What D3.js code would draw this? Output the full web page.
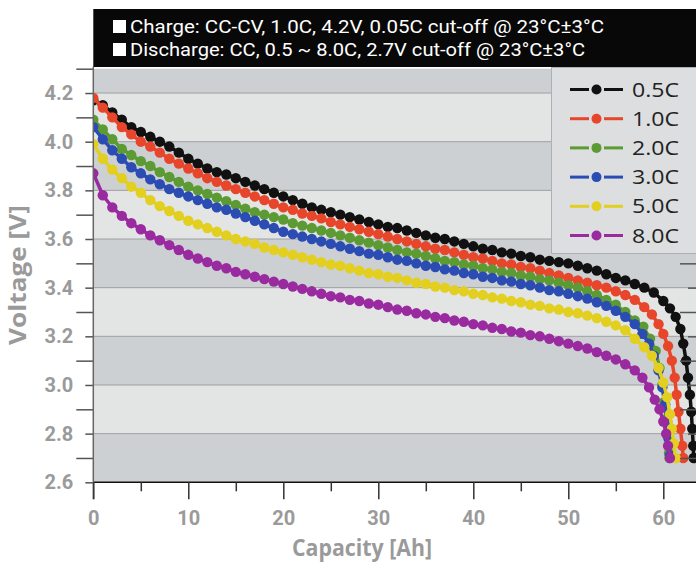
<!DOCTYPE html>
<html><head><meta charset="utf-8">
<script src="https://cdn.jsdelivr.net/npm/d3@7"></script>
<style>html,body{margin:0;padding:0;background:#fff;} svg{display:block;}</style>
</head><body>
<svg id="c" width="696" height="564"></svg>
<script>
const seriesNames = ["0.5C","1.0C","2.0C","3.0C","5.0C","8.0C"];
const seriesColors = ["#111111","#e8462b","#5c9b33","#2b4cb3","#e2cf20","#9a2a9f"];
const xTicks = [0,10,20,30,40,50,60];
const xMinorTicks = [5,15,25,35,45,55];
const yTicks = [2.6,2.8,3.0,3.2,3.4,3.6,3.8,4.0,4.2];
const yMinorTicks = [2.7,2.9,3.1,3.3,3.5,3.7,3.9,4.1,4.3];
const headerLines = ["Charge: CC-CV, 1.0C, 4.2V, 0.05C cut-off @ 23°C±3°C",
                     "Discharge: CC, 0.5 ~ 8.0C, 2.7V cut-off @ 23°C±3°C"];
const xTitle = "Capacity [Ah]";
const yTitle = "Voltage [V]";

// [capacity Ah, voltage V]
const c05 = [[0,4.17],[1,4.15],[2,4.12],[3,4.09],[4,4.06],[5,4.04],[6,4.02],[7,4.00],[8,3.98],[9,3.955],
 [10,3.93],[11,3.91],[12,3.89],[13,3.875],[14,3.865],[15,3.85],[16,3.835],[17,3.82],[18,3.805],[19,3.79],
 [20,3.775],[21,3.76],[22,3.745],[23,3.73],[24,3.72],[25,3.71],[26,3.70],[27,3.69],[28,3.68],[29,3.67],
 [30,3.66],[31,3.65],[32,3.645],[33,3.635],[34,3.625],[35,3.615],[36,3.605],[37,3.60],[38,3.59],[39,3.58],
 [40,3.57],[41,3.56],[42,3.555],[43,3.545],[44,3.54],[45,3.53],[46,3.525],[47,3.515],[48,3.51],[49,3.505],
 [50,3.50],[51,3.49],[52,3.48],[53,3.47],[54,3.455],[55,3.44],[56,3.43],[57,3.415],[58,3.40],[59,3.38],
 [60,3.345],[60.7,3.315],[61.3,3.28],[61.8,3.23],[62.1,3.17],[62.4,3.10],[62.6,3.03],[62.8,2.96],[62.95,2.89],
 [63.05,2.82],[63.15,2.75],[63.2,2.70]];
const c10 = [[0,4.18],[1,4.14],[2,4.10],[3,4.06],[4,4.03],[5,4.00],[6,3.98],[7,3.955],[8,3.93],[9,3.91],
 [10,3.89],[11,3.87],[12,3.85],[13,3.835],[14,3.82],[15,3.805],[16,3.79],[17,3.775],[18,3.76],[19,3.745],
 [20,3.73],[21,3.72],[22,3.705],[23,3.695],[24,3.685],[25,3.67],[26,3.66],[27,3.65],[28,3.64],[29,3.63],
 [30,3.62],[31,3.61],[32,3.60],[33,3.59],[34,3.58],[35,3.57],[36,3.56],[37,3.555],[38,3.545],[39,3.535],
 [40,3.525],[41,3.52],[42,3.51],[43,3.50],[44,3.495],[45,3.485],[46,3.48],[47,3.47],[48,3.46],[49,3.45],
 [50,3.44],[51,3.43],[52,3.42],[53,3.41],[54,3.40],[55,3.385],[56,3.37],[57,3.35],[58,3.32],[58.8,3.29],
 [59.5,3.25],[60,3.21],[60.5,3.16],[60.9,3.10],[61.2,3.03],[61.4,2.96],[61.6,2.89],[61.8,2.82],[62.0,2.75],[62.1,2.70]];
const c20 = [[0,4.09],[1,4.05],[2,4.01],[3,3.97],[4,3.945],[5,3.92],[6,3.90],[7,3.875],[8,3.855],[9,3.835],
 [10,3.815],[11,3.80],[12,3.785],[13,3.77],[14,3.755],[15,3.74],[16,3.725],[17,3.71],[18,3.70],[19,3.69],
 [20,3.68],[21,3.665],[22,3.655],[23,3.645],[24,3.635],[25,3.625],[26,3.615],[27,3.605],[28,3.595],[29,3.585],
 [30,3.575],[31,3.565],[32,3.555],[33,3.545],[34,3.54],[35,3.53],[36,3.52],[37,3.51],[38,3.505],[39,3.495],
 [40,3.49],[41,3.48],[42,3.475],[43,3.465],[44,3.46],[45,3.45],[46,3.445],[47,3.435],[48,3.43],[49,3.42],
 [50,3.41],[51,3.40],[52,3.385],[53,3.37],[54,3.35],[55,3.33],[56,3.30],[57,3.265],[57.9,3.24],[58.6,3.19],
 [59.2,3.14],[59.6,3.07],[59.9,3.00],[60.1,2.93],[60.3,2.86],[60.45,2.79],[60.6,2.72],[60.65,2.70]];
const c30 = [[0,4.06],[1,4.01],[2,3.965],[3,3.93],[4,3.895],[5,3.87],[6,3.845],[7,3.825],[8,3.805],[9,3.79],
 [10,3.775],[11,3.76],[12,3.745],[13,3.73],[14,3.72],[15,3.705],[16,3.69],[17,3.675],[18,3.66],[19,3.645],
 [20,3.63],[21,3.62],[22,3.61],[23,3.60],[24,3.59],[25,3.58],[26,3.57],[27,3.56],[28,3.55],[29,3.54],
 [30,3.535],[31,3.525],[32,3.515],[33,3.51],[34,3.50],[35,3.49],[36,3.485],[37,3.475],[38,3.47],[39,3.46],
 [40,3.455],[41,3.445],[42,3.44],[43,3.43],[44,3.425],[45,3.415],[46,3.41],[47,3.40],[48,3.39],[49,3.385],
 [50,3.375],[51,3.365],[52,3.355],[53,3.34],[54,3.325],[55,3.305],[56,3.28],[57,3.25],[57.8,3.21],[58.5,3.17],
 [59.0,3.12],[59.5,3.06],[59.9,2.99],[60.2,2.92],[60.4,2.85],[60.55,2.78],[60.7,2.71]];
const c50 = [[0,3.99],[1,3.93],[2,3.885],[3,3.85],[4,3.815],[5,3.79],[6,3.76],[7,3.735],[8,3.715],[9,3.695],
 [10,3.675],[11,3.66],[12,3.645],[13,3.63],[14,3.615],[15,3.60],[16,3.59],[17,3.58],[18,3.565],[19,3.555],
 [20,3.545],[21,3.535],[22,3.525],[23,3.515],[24,3.505],[25,3.495],[26,3.49],[27,3.48],[28,3.47],[29,3.46],
 [30,3.455],[31,3.445],[32,3.44],[33,3.43],[34,3.42],[35,3.415],[36,3.405],[37,3.40],[38,3.39],[39,3.385],
 [40,3.375],[41,3.37],[42,3.36],[43,3.355],[44,3.345],[45,3.34],[46,3.33],[47,3.325],[48,3.315],[49,3.31],
 [50,3.30],[51,3.295],[52,3.285],[53,3.275],[54,3.26],[55,3.245],[56,3.225],[57,3.19],[58,3.155],[58.8,3.12],
 [59.5,3.07],[60.0,3.01],[60.4,2.95],[60.7,2.88],[60.9,2.82],[61.1,2.76],[61.3,2.70]];
const c80 = [[0,3.87],[1,3.78],[2,3.73],[3,3.695],[4,3.665],[5,3.64],[6,3.615],[7,3.595],[8,3.575],[9,3.555],
 [10,3.535],[11,3.52],[12,3.505],[13,3.49],[14,3.48],[15,3.465],[16,3.455],[17,3.445],[18,3.435],[19,3.425],
 [20,3.415],[21,3.405],[22,3.395],[23,3.385],[24,3.375],[25,3.365],[26,3.36],[27,3.35],[28,3.345],[29,3.335],
 [30,3.33],[31,3.32],[32,3.31],[33,3.305],[34,3.295],[35,3.29],[36,3.28],[37,3.275],[38,3.265],[39,3.26],
 [40,3.25],[41,3.245],[42,3.235],[43,3.23],[44,3.22],[45,3.215],[46,3.205],[47,3.20],[48,3.19],[49,3.18],
 [50,3.17],[51,3.16],[52,3.15],[53,3.135],[54,3.12],[55,3.105],[56,3.085],[57,3.06],[57.8,3.03],[58.5,2.99],
 [59.1,2.94],[59.6,2.90],[60.0,2.85],[60.3,2.80],[60.5,2.75],[60.7,2.70]];
const seriesData = [c05,c10,c20,c30,c50,c80];

const W = 696, H = 564;
const pL = 93.3, pT = 68.7, pB = 482.3;
const x = d3.scaleLinear().domain([0, 63.45]).range([pL, pL + 63.45*9.5]);
const y = d3.scaleLinear().domain([2.6, 4.3]).range([pB, pT]);

const svg = d3.select("#c");
const fontNum = "Roboto,'Liberation Sans',sans-serif";
const fontTxt = "'Open Sans','DejaVu Sans',sans-serif";

// background bands
const bandEdges = [2.6,2.8,3.0,3.2,3.4,3.6,3.8,4.0,4.2,4.3];
const bands = d3.pairs(bandEdges);
svg.append("g").selectAll("rect").data(bands).join("rect")
  .attr("x", pL).attr("width", W - pL)
  .attr("y", d => y(d[1])).attr("height", d => y(d[0]) - y(d[1]))
  .attr("fill", (d,i) => i % 2 === 0 ? "#cdd0d3" : "#e3e5e5");

// grid lines
svg.append("g").selectAll("line").data(yTicks.slice(1)).join("line")
  .attr("x1", pL).attr("x2", W).attr("y1", d => y(d)).attr("y2", d => y(d))
  .attr("stroke", "#9c9fa0").attr("stroke-width", 1);

// curves
svg.append("clipPath").attr("id","pc").append("rect")
  .attr("x", pL).attr("y", pT - 2).attr("width", W - pL).attr("height", pB - pT + 2);
const line = d3.line().x(d => x(d[0])).y(d => y(d[1]));
const gCurves = svg.append("g").attr("clip-path","url(#pc)");
seriesData.forEach((s, i) => {
  const g = gCurves.append("g");
  g.append("path").attr("d", line(s)).attr("fill","none").attr("stroke", seriesColors[i]).attr("stroke-width", 3.5);
  g.selectAll("circle").data(s).join("circle")
    .attr("cx", d => x(d[0])).attr("cy", d => y(d[1])).attr("r", 5.2).attr("fill", seriesColors[i]);
});

// bottom axis line
svg.append("line").attr("x1", pL).attr("x2", W).attr("y1", pB).attr("y2", pB)
  .attr("stroke", "#111").attr("stroke-width", 1.5);

// left axis
const gy = svg.append("g").attr("transform", `translate(${pL},0)`);
gy.call(d3.axisLeft(y).tickValues(yTicks).tickSize(8).tickPadding(12).tickFormat(d3.format(".1f")));
gy.select(".domain").remove();
gy.selectAll(".tick line").attr("stroke","#555").attr("stroke-width",1.5);
gy.selectAll(".tick text").attr("fill","#9a9a9a").style("font-family", fontNum)
  .style("font-size","20px").style("font-weight","bold");
const gym = svg.append("g").attr("transform", `translate(${pL},0)`);
gym.call(d3.axisLeft(y).tickValues(yMinorTicks).tickSize(17).tickFormat(""));
gym.select(".domain").remove();
gym.selectAll(".tick line").attr("stroke","#555").attr("stroke-width",1.5);
svg.append("line").attr("x1", pL).attr("x2", pL).attr("y1", pT - 2).attr("y2", pB + 17)
  .attr("stroke","#666").attr("stroke-width",1.5);

// right inner ticks
const gr = svg.append("g").attr("transform", `translate(${W},0)`);
gr.call(d3.axisLeft(y).tickValues(yTicks.slice(1)).tickSize(8).tickFormat(""));
gr.select(".domain").remove();
const grm = svg.append("g").attr("transform", `translate(${W},0)`);
grm.call(d3.axisLeft(y).tickValues(yMinorTicks.slice(0,-1)).tickSize(16).tickFormat(""));
grm.select(".domain").remove();
[gr, grm].forEach(g => g.selectAll(".tick line").attr("stroke","#555").attr("stroke-width",1.5));

// bottom axis
const gx = svg.append("g").attr("transform", `translate(0,${pB})`);
gx.call(d3.axisBottom(x).tickValues(xTicks).tickSize(17).tickPadding(12).tickFormat(d3.format("d")));
gx.select(".domain").remove();
gx.selectAll(".tick line").attr("stroke","#333").attr("stroke-width",1.5);
gx.selectAll(".tick text").attr("fill","#9a9a9a").style("font-family", fontNum)
  .style("font-size","20px").style("font-weight","bold");
const gxm = svg.append("g").attr("transform", `translate(0,${pB})`);
gxm.call(d3.axisBottom(x).tickValues(xMinorTicks).tickSize(9).tickFormat(""));
gxm.select(".domain").remove();
gxm.selectAll(".tick line").attr("stroke","#333").attr("stroke-width",1.5);

// axis titles
svg.append("text").attr("x", 362).attr("y", 556).attr("text-anchor","middle")
  .attr("fill","#9a9a9a").style("font-family", fontTxt)
  .style("font-size","23px").style("font-weight","bold")
  .attr("textLength", 140).attr("lengthAdjust","spacingAndGlyphs").text(xTitle);
svg.append("text").attr("transform","translate(26,275) rotate(-90)").attr("text-anchor","middle")
  .attr("fill","#9a9a9a").style("font-family", fontTxt)
  .style("font-size","23px").style("font-weight","bold")
  .attr("textLength", 140).attr("lengthAdjust","spacingAndGlyphs").text(yTitle);

// header
svg.append("rect").attr("x", pL).attr("y", 9).attr("width", W - pL).attr("height", 58).attr("fill","#080808");
const headerLens = [474, 455];
headerLines.forEach((t, i) => {
  svg.append("rect").attr("x", 113).attr("y", 20 + i*23).attr("width", 13).attr("height", 13).attr("fill","#fff");
  svg.append("text").attr("x", 130).attr("y", 33 + i*23).attr("fill","#fff")
    .style("font-family", fontNum).style("font-size","19px")
    .attr("textLength", headerLens[i]).attr("lengthAdjust","spacingAndGlyphs").text(t);
});

// legend
const lg = svg.append("g");
lg.append("rect").attr("x", 551.5).attr("y", 67.5).attr("width", W - 551).attr("height", 186)
  .attr("fill","#dcdee0").attr("stroke","#aeb1b3").attr("stroke-width",1);
seriesNames.forEach((n, i) => {
  const yy = 89.5 + i * 29.2;
  lg.append("line").attr("x1", 570).attr("x2", 589).attr("y1", yy).attr("y2", yy)
    .attr("stroke", seriesColors[i]).attr("stroke-width", 3);
  lg.append("line").attr("x1", 604).attr("x2", 623).attr("y1", yy).attr("y2", yy)
    .attr("stroke", seriesColors[i]).attr("stroke-width", 3);
  lg.append("circle").attr("cx", 596.5).attr("cy", yy).attr("r", 5).attr("fill", seriesColors[i]);
  lg.append("text").attr("x", 632).attr("y", yy + 7).attr("fill","#222")
    .style("font-family", fontTxt).style("font-size","20px")
    .attr("textLength", 47).attr("lengthAdjust","spacingAndGlyphs").text(n);
});
</script>
</body></html>
